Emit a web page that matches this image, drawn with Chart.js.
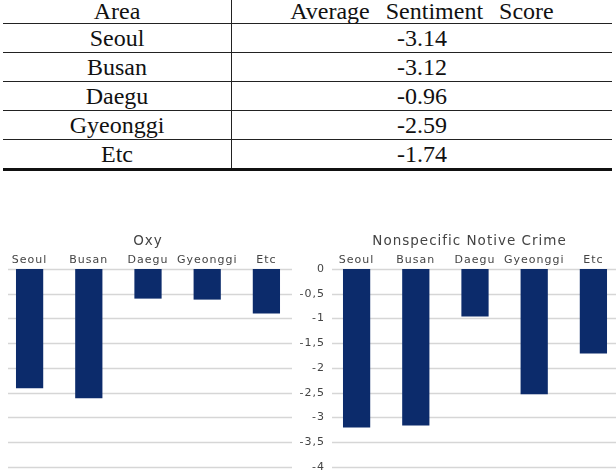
<!DOCTYPE html>
<html>
<head>
<meta charset="utf-8">
<script src="https://cdn.jsdelivr.net/npm/chart.js@4"></script>
<style>
  html, body { margin: 0; padding: 0; background: #fff; width: 616px; height: 470px; overflow: hidden; position: relative; }
  table { position: absolute; left: 3px; top: 0; width: 609px; border-collapse: collapse;
          font-family: "Liberation Serif", "DejaVu Serif", serif; font-size: 24px; color: #111; }
  td { text-align: center; padding: 0; line-height: 22px; border-bottom: 1.5px solid #222; }
  td.area { width: 228px; border-right: 1.5px solid #222; }
  tr.head td { height: 23px; vertical-align: top; }
  tr.head td.score { word-spacing: 10px; }
  tr.row td { height: 28px; }
  tr.row:last-child td { border-bottom: 3.5px solid #111; }
  canvas { position: absolute; top: 226px; }
  #oxy { left: 0; }
  #crime { left: 296px; }
</style>
</head>
<body>
<table id="tbl"></table>
<canvas id="oxy" width="296" height="260"></canvas>
<canvas id="crime" width="327" height="260"></canvas>
<script>
const areas = ['Seoul', 'Busan', 'Daegu', 'Gyeonggi', 'Etc']
const avgScore = ['-3.14', '-3.12', '-0.96', '-2.59', '-1.74']
const oxyValues = [-2.41, -2.61, -0.6, -0.62, -0.9]
const crimeValues = [-3.2, -3.16, -0.96, -2.53, -1.71]

// table at the top
const tbl = document.getElementById('tbl')
let html = '<tr class="head"><td class="area">Area</td><td class="score">Average Sentiment Score</td></tr>'
areas.forEach((a, i) => {
  html += '<tr class="row"><td class="area">' + a + '</td><td>' + avgScore[i] + '</td></tr>'
})
tbl.innerHTML = html

// wide letter spacing like the original chart font, title nudge, inset grid lines
const tweaks = {
  id: 'tweaks',
  beforeUpdate(chart) { chart.ctx.letterSpacing = '1px' },
  afterLayout(chart, args, opts) {
    const t = chart.titleBlock
    if (t && opts.shift) { t.left += opts.shift; t.right += opts.shift }
  },
  beforeDraw(chart) { chart.ctx.letterSpacing = '1px' },
  beforeDatasetsDraw(chart, args, opts) {
    const ctx = chart.ctx
    const y = chart.scales.y
    const area = chart.chartArea
    ctx.save()
    ctx.strokeStyle = '#d6d6d6'
    ctx.lineWidth = 1.5
    y.ticks.forEach(t => {
      const py = Math.round(y.getPixelForValue(t.value)) + 0.5
      ctx.beginPath()
      ctx.moveTo(area.left + opts.insetLeft, py)
      ctx.lineTo(area.right - opts.insetRight, py)
      ctx.stroke()
    })
    ctx.restore()
  }
}

function makeChart(id, title, values, showTicks, shift, insetLeft, insetRight) {
  return new Chart(document.getElementById(id).getContext('2d'), {
    type: 'bar',
    data: {
      labels: areas,
      datasets: [{
        data: values,
        backgroundColor: '#0c2b6b',
        categoryPercentage: 1,
        barPercentage: 0.46,
      }]
    },
    plugins: [tweaks],
    options: {
      responsive: false,
      maintainAspectRatio: false,
      animation: false,
      layout: { padding: { left: 0, right: 0, top: 0, bottom: 19 } },
      plugins: {
        legend: { display: false },
        tooltip: { enabled: false },
        tweaks: { shift: shift, insetLeft: insetLeft, insetRight: insetRight },
        title: {
          display: true,
          text: title,
          color: '#444',
          font: { family: 'DejaVu Sans', size: 13.5, weight: 'normal' },
          padding: { top: 7, bottom: 0 },
        }
      },
      scales: {
        x: {
          position: 'top',
          grid: { display: false, drawTicks: false },
          border: { display: false },
          ticks: { color: '#444', font: { family: 'DejaVu Sans', size: 11 }, padding: 2, maxRotation: 0, autoSkip: false },
          afterFit(scale) { scale.height = 19.7 },
        },
        y: {
          min: -4,
          max: 0,
          grid: { display: false, drawTicks: false },
          border: { display: false },
          ticks: {
            display: showTicks,
            stepSize: 0.5,
            color: '#444',
            padding: 2,
            font: { family: 'DejaVu Sans', size: 11 },
            callback: v => String(v).replace('.', ','),
          },
          afterFit(scale) { scale.width = showTicks ? 31 : 0 },
        }
      }
    }
  })
}

makeChart('oxy', 'Oxy', oxyValues, false, 0, 8, 4)
makeChart('crime', 'Nonspecific Notive Crime', crimeValues, true, 10, 5, 0)
</script>
</body>
</html>
